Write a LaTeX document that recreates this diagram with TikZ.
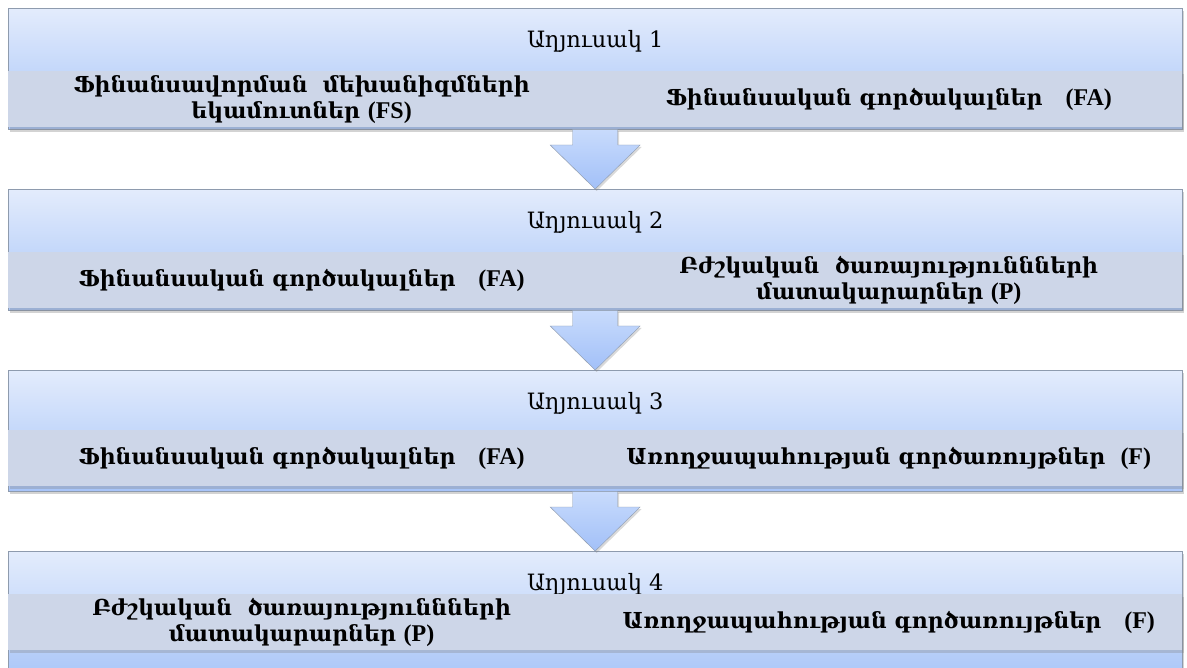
\documentclass[tikz,border=0pt]{standalone}
\usepackage{fontspec}
\usetikzlibrary{calc,shadows}

\newfontfamily\armfont{DejaVu Serif}
\newfontfamily\timesfont{Liberation Serif}

\definecolor{bandtop}{HTML}{E3ECFC}
\definecolor{bandbot}{HTML}{A7C4F8}
\definecolor{stripfill}{HTML}{CDD6E8}
\definecolor{arrowtop}{HTML}{C8DBFC}
\definecolor{arrowbot}{HTML}{A2C0F8}
\definecolor{edgegray}{HTML}{8E9BAE}

\newcommand{\abbr}[1]{{\timesfont\bfseries\fontsize{24}{26}\selectfont #1}}

% block arrow from the bottom of one band to the top of the next
\newcommand{\bandarrow}[2]{%
  \draw[blockarrow]
    ($(#1.south)+(-22.5,0)$) -- ($(#2.north)+(-22.5,-44)$) -- ($(#2.north)+(-45,-44)$)
    -- (#2.north) -- ($(#2.north)+(45,-44)$) -- ($(#2.north)+(22.5,-44)$)
    -- ($(#1.south)+(22.5,0)$) -- cycle;
}

\begin{document}
\begin{tikzpicture}[x=1pt, y=-1pt,
  band/.style={draw=edgegray, top color=bandtop, bottom color=bandbot,
    minimum width=1174pt, minimum height=121pt, inner sep=0pt, anchor=north west,
    drop shadow={shadow xshift=1.5pt, shadow yshift=-2.5pt, opacity=.35}},
  strip/.style={fill=stripfill, minimum width=1174pt, minimum height=56pt,
    inner sep=0pt, anchor=north west,
    drop shadow={shadow xshift=1.5pt, shadow yshift=-2.5pt, opacity=.3}},
  head/.style={font=\armfont\fontsize{22.5}{26}\selectfont},
  item/.style={font=\armfont\bfseries\fontsize{22}{26}\selectfont, align=center},
  blockarrow/.style={draw=edgegray, top color=arrowtop, bottom color=arrowbot,
    line join=miter,
    drop shadow={shadow xshift=1.5pt, shadow yshift=-2pt, opacity=.3}}]

  \useasboundingbox (0,0) rectangle (1187,668);
  \clip (0,0) rectangle (1187,668);

  \node[band] (b1) at (8,8) {};
  \node[band] (b2) at (8,189) {};
  \node[band] (b3) at (8,370) {};
  \node[band, minimum height=135pt] (b4) at (8,551) {};

  \node[head] (h1) at ($(b1.north)+(0,33)$) {Աղյուսակ 1};
  \node[head] (h2) at ($(b2.north)+(0,33)$) {Աղյուսակ 2};
  \node[head] (h3) at ($(b3.north)+(0,33)$) {Աղյուսակ 3};
  \node[head] (h4) at ($(b4.north)+(0,33)$) {Աղյուսակ 4};

  \node[strip] (s1) at ($(b1.north west)+(0,63)$) {};
  \node[strip] (s2) at ($(b2.north west)+(0,63)$) {};
  \node[strip] (s3) at ($(b3.north west)+(0,60)$) {};
  \node[strip] (s4) at ($(b4.north west)+(0,43)$) {};

  \node[item] (l1) at ($(s1.west)!.25!(s1.east)$)
    {Ֆինանսավորման\ \ մեխանիզմների\\եկամուտներ \abbr{(FS)}};
  \node[item] (r1) at ($(s1.west)!.75!(s1.east)$)
    {Ֆինանսական գործակալներ\ \ \ \abbr{(FA)}};

  \node[item] (l2) at ($(s2.west)!.25!(s2.east)$)
    {Ֆինանսական գործակալներ\ \ \ \abbr{(FA)}};
  \node[item] (r2) at ($(s2.west)!.75!(s2.east)$)
    {Բժշկական\ \ ծառայություննների\\մատակարարներ \abbr{(P)}};

  \node[item] (l3) at ($(s3.west)!.25!(s3.east)$)
    {Ֆինանսական գործակալներ\ \ \ \abbr{(FA)}};
  \node[item] (r3) at ($(s3.west)!.75!(s3.east)$)
    {Առողջապահության գործառույթներ\ \ \abbr{(F)}};

  \node[item] (l4) at ($(s4.west)!.25!(s4.east)$)
    {Բժշկական\ \ ծառայություննների\\մատակարարներ \abbr{(P)}};
  \node[item] (r4) at ($(s4.west)!.75!(s4.east)$)
    {Առողջապահության գործառույթներ\ \ \ \abbr{(F)}};

  \bandarrow{b1}{b2}
  \bandarrow{b2}{b3}
  \bandarrow{b3}{b4}

\end{tikzpicture}
\end{document}
